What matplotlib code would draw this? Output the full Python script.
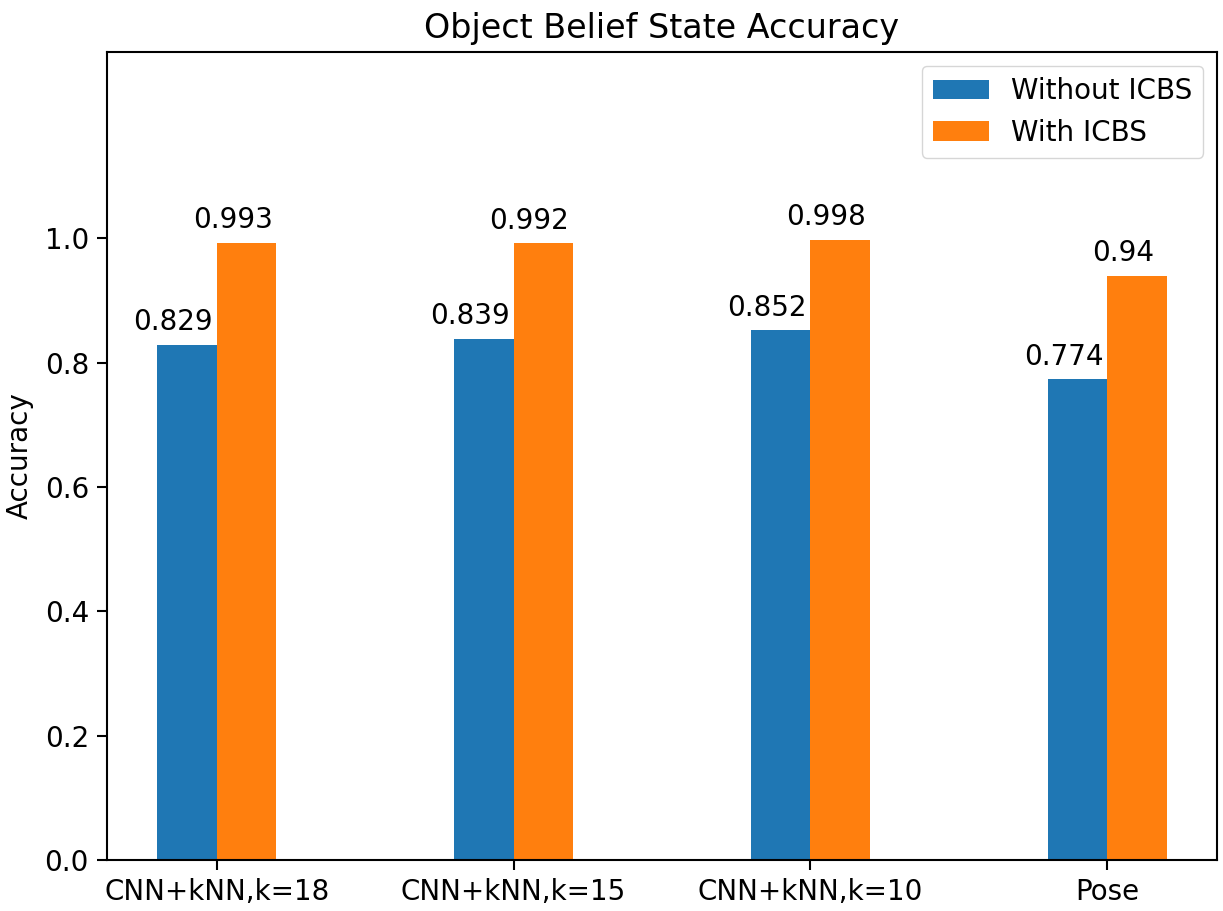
import numpy as np
import matplotlib
matplotlib.use("Agg")
import matplotlib.pyplot as plt

methods = ["CNN+kNN,k=18", "CNN+kNN,k=15", "CNN+kNN,k=10", "Pose"]
without_icbs = [0.829, 0.839, 0.852, 0.774]
with_icbs = [0.993, 0.992, 0.998, 0.94]
yticks = [0.0, 0.2, 0.4, 0.6, 0.8, 1.0]

x = np.arange(len(methods))
w = 0.2

fig = plt.figure(figsize=(12.23, 9.11), dpi=100)
ax = fig.add_axes([107/1223, 51/911, 1110/1223, 808/911])

b1 = ax.bar(x - w/2, without_icbs, w, label="Without ICBS", color="#1f77b4")
b2 = ax.bar(x + w/2, with_icbs, w, label="With ICBS", color="#ff7f0e")

# valeurs au-dessus des barres (un peu décalées à gauche)
for bars in (b1, b2):
    for r in bars:
        h = r.get_height()
        ax.annotate(f"{h:g}", (r.get_x() + r.get_width()/2, h),
                    xytext=(-10, 6), textcoords="offset points",
                    ha="center", va="bottom", fontsize=20)

ax.set_xticks(x)
ax.set_xticklabels(methods, fontsize=20)
ax.set_yticks(yticks)
ax.set_yticklabels([f"{v:.1f}" for v in yticks], fontsize=20)
ax.set_ylim(0, 1.3)
ax.tick_params(length=7, width=1.5, pad=6)
for s in ax.spines.values():
    s.set_linewidth(1.5)
ax.set_ylabel("Accuracy", fontsize=20, labelpad=8)
ax.set_title("Object Belief State Accuracy", fontsize=24, pad=10)
ax.legend(fontsize=20, loc="upper right", borderpad=0.4)

fig.savefig("out.png", dpi=100)
